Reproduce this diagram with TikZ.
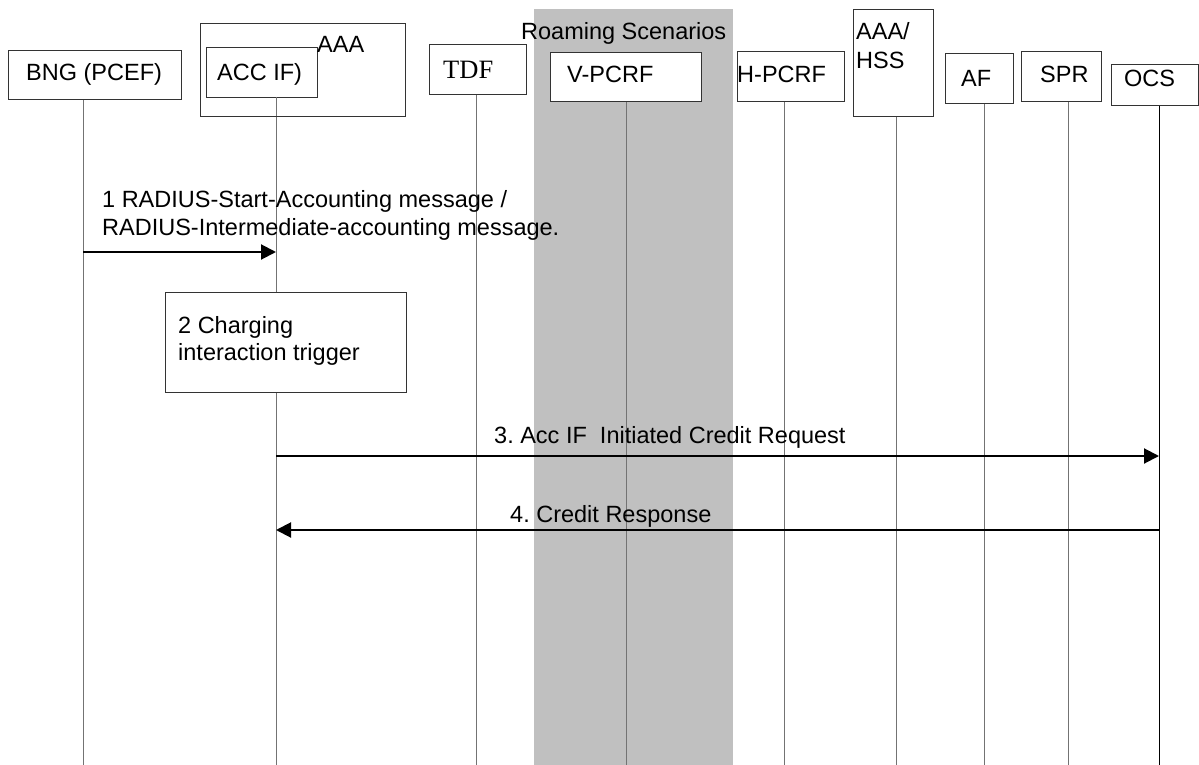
\documentclass[tikz,border=0pt]{standalone}
\usepackage{fontspec}
\setmainfont{Liberation Sans}
\newfontfamily\timesfont{Liberation Serif}
\usetikzlibrary{arrows.meta}
\definecolor{roamgray}{HTML}{C0C0C0}
\frenchspacing
\begin{document}
\begin{tikzpicture}[x=1pt,y=-1pt,
  every node/.style={font=\fontsize{23.5}{28}\selectfont},
  box/.style={draw=black!80, line width=1pt, fill=white, inner sep=0pt, anchor=north west},
  txt/.style={anchor=base west, inner sep=0pt},
  life/.style={draw=black!55, line width=1pt},
  msg/.style={draw=black, line width=2pt, -{Triangle[length=15pt,width=15pt]}}
]
\useasboundingbox (0,0) rectangle (1199,765);
% roaming area
\fill[roamgray] (534,9) rectangle (733,765);

% lifeline ends
\coordinate (bngT) at (83,99);   \coordinate (bngB) at (83,765);
\coordinate (accT) at (276,97);  \coordinate (accB) at (276,765);
\coordinate (tdfT) at (476,94);  \coordinate (tdfB) at (476,765);
\coordinate (vpT) at (626,101);  \coordinate (vpB) at (626,765);
\coordinate (hpT) at (784,101);  \coordinate (hpB) at (784,765);
\coordinate (hssT) at (896,116); \coordinate (hssB) at (896,765);
\coordinate (afT) at (984,103);  \coordinate (afB) at (984,765);
\coordinate (sprT) at (1068,101);\coordinate (sprB) at (1068,765);
\coordinate (ocsT) at (1159,105);\coordinate (ocsB) at (1159,765);

\foreach \a/\b in {bngT/bngB,accT/accB,tdfT/tdfB,vpT/vpB,hpT/hpB,hssT/hssB,afT/afB,sprT/sprB}
  \draw[life] (\a) -- (\b);
\draw[draw=black, line width=1pt] (ocsT) -- (ocsB);

% entity boxes
\node[box, minimum width=173pt, minimum height=49pt] (bng) at (8,50) {};
\node[box, minimum width=205pt, minimum height=93pt, fill=none] (aaa) at (200,23) {};
\node[box, minimum width=111pt, minimum height=50pt] (acc) at (206,47) {};
\draw[life] (accT) -- (276,116);
\node[box, minimum width=97pt, minimum height=50pt] (tdf) at (429,44) {};
\node[box, minimum width=151pt, minimum height=49pt] (vpcrf) at (550,52) {};
\node[box, minimum width=107pt, minimum height=50pt] (hpcrf) at (737,51) {};
\node[box, minimum width=80pt, minimum height=107pt] (hss) at (853,9) {};
\node[box, minimum width=68pt, minimum height=50pt] (af) at (945,53) {};
\node[box, minimum width=80pt, minimum height=50pt] (spr) at (1021,51) {};
\node[box, minimum width=87pt, minimum height=41pt] (ocs) at (1111,64) {};

% labels of entities
\node[txt] (tbng) at (26,81) {BNG (PCEF)};
\node[txt] (taaa) at (317,53) {AAA};
\node[txt] (tacc) at (217,81) {ACC IF)};
\node[txt, font=\timesfont\fontsize{26.5}{30}\selectfont] (ttdf) at (443,79) {TDF};
\node[txt] (troam) at (521,40) {Roaming Scenarios};
\node[txt] (tvp) at (567,83) {V-PCRF};
\node[txt] (thp) at (737,83) {H-PCRF};
\node[txt] (thss1) at (856,40) {AAA/};
\node[txt] (thss2) at (856,69) {HSS};
\node[txt] (taf) at (961,87) {AF};
\node[txt] (tspr) at (1040,83) {SPR};
\node[txt] (tocs) at (1124,87) {OCS};

% step 2 box
\node[box, minimum width=241pt, minimum height=100pt] (trig) at (165,292) {};
\node[txt] (ttrig1) at (178,333) {2 Charging};
\node[txt] (ttrig2) at (178,360) {interaction trigger};

% messages
\coordinate (m1a) at (83,252);   \coordinate (m1b) at (276,252);
\coordinate (m3a) at (276,456);  \coordinate (m3b) at (1159,456);
\coordinate (m4a) at (1159,530); \coordinate (m4b) at (276,530);
\draw[msg] (m1a) -- (m1b);
\draw[msg] (m3a) -- (m3b);
\draw[msg] (m4a) -- (m4b);
\node[txt] (tm1a) at (102,207) {1 RADIUS-Start-Accounting message /};
\node[txt] (tm1b) at (102,235) {RADIUS-Intermediate-accounting message.};
\node[txt] (tm3) at (494,443) {3. Acc IF\ \ Initiated Credit Request};
\node[txt] (tm4) at (510,522) {4. Credit Response};
\end{tikzpicture}
\end{document}
